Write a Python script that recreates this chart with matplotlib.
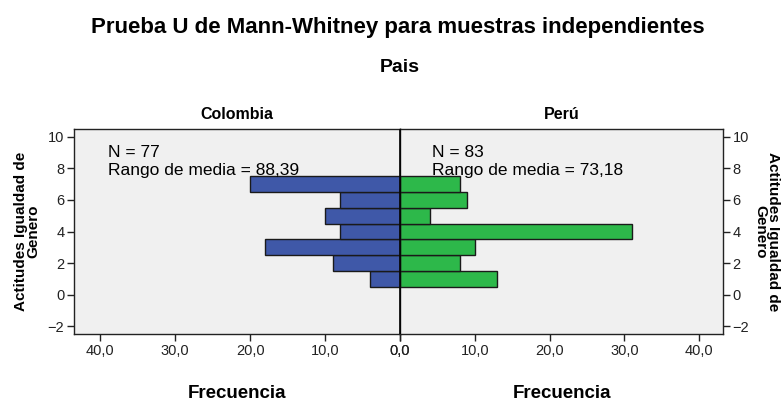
import numpy as np
import matplotlib.pyplot as plt
from matplotlib.ticker import FuncFormatter

plt.rcParams["font.family"] = ["Liberation Sans", "DejaVu Sans"]

# --- Data ---
score_bins = [1, 2, 3, 4, 5, 6, 7]
colombia_freq = [4, 9, 18, 8, 10, 8, 20]
peru_freq = [13, 8, 10, 31, 4, 9, 8]
groups = ["Colombia", "Perú"]
n_values = [77, 83]
mean_ranks = ["88,39", "73,18"]
x_ticks = [0, 10, 20, 30, 40]
y_ticks = [-2, 0, 2, 4, 6, 8, 10]

blue = "#3f58a8"
green = "#2db84a"
bg = "#f0f0f0"

fig = plt.figure(figsize=(7.83, 4.01), dpi=100)
ax_l = fig.add_axes([74 / 783, 1 - 334 / 401, 326 / 783, 205 / 401])
ax_r = fig.add_axes([400 / 783, 1 - 334 / 401, 323 / 783, 205 / 401])

comma = FuncFormatter(lambda v, p: f"{v:.1f}".replace(".", ","))

for ax, freq, color, name in zip([ax_l, ax_r], [colombia_freq, peru_freq], [blue, green], groups):
    ax.set_facecolor(bg)
    ax.barh(score_bins, freq, height=1.0, color=color, edgecolor="#1a1a1a", linewidth=1.0, zorder=2)
    ax.set_ylim(-2.5, 10.5)
    ax.set_yticks(y_ticks)
    ax.set_xticks(x_ticks)
    ax.xaxis.set_major_formatter(comma)
    ax.tick_params(length=5, width=1, labelsize=10.5, colors="#222222", pad=2)
    for s in ax.spines.values():
        s.set_color("#222222")
        s.set_linewidth(1.0)
    ax.set_title(name, fontsize=11.5, fontweight="bold", pad=7)
    ax.set_xlabel("Frecuencia", fontsize=13.5, fontweight="bold", labelpad=20)
    ax.axvline(0, color="black", lw=1.2, zorder=3)

ax_l.set_xlim(43.5, 0)
ax_r.set_xlim(0, 43.2)
ax_r.yaxis.tick_right()
ax_r.yaxis.set_label_position("right")

ylab = "Actitudes Igualdad de\nGenero"
ax_l.set_ylabel(ylab, fontsize=11, fontweight="bold", labelpad=5, linespacing=0.9)
ax_r.set_ylabel(ylab, fontsize=11, fontweight="bold", rotation=270, labelpad=22, linespacing=0.9)

# annotation text
ax_l.text(39.0, 8.45, f"N = {n_values[0]}\nRango de media = {mean_ranks[0]}",
          fontsize=12.5, va="center", ha="left", zorder=5, linespacing=1.2)
ax_r.text(4.3, 8.45, f"N = {n_values[1]}\nRango de media = {mean_ranks[1]}",
          fontsize=12.5, va="center", ha="left", zorder=5, linespacing=1.2)

fig.text(0.508, 1 - 28 / 401, "Prueba U de Mann-Whitney para muestras independientes",
         ha="center", va="center", fontsize=16, fontweight="bold")
fig.text(400 / 783, 1 - 68 / 401, "Pais", ha="center", va="center", fontsize=14, fontweight="bold")

fig.savefig("out.png", dpi=100, facecolor="white")
